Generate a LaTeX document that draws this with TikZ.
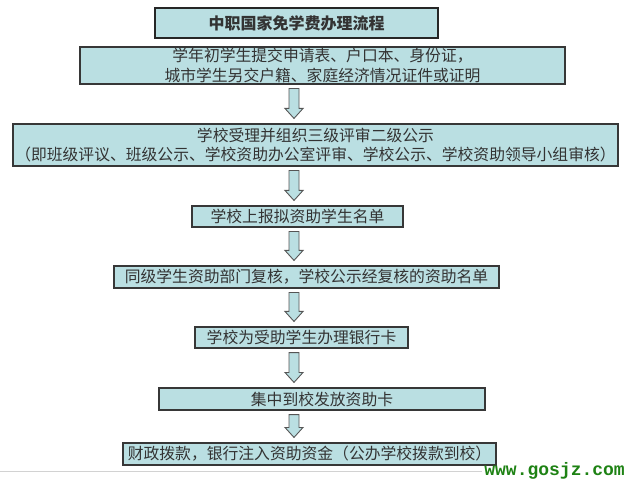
\documentclass[tikz,border=0pt]{standalone}
\usepackage{fontspec}
\setmainfont{Noto Sans CJK SC}
\newfontfamily\cjk{Noto Sans CJK SC}
\newfontfamily\wmfont{Liberation Mono}
\usetikzlibrary{calc}
\definecolor{boxfill}{RGB}{186,223,226}
\definecolor{boxline}{RGB}{55,55,55}
\definecolor{wmgreen}{RGB}{30,130,20}
\tikzset{
  flowbox/.style={draw=boxline, line width=1.1pt, fill=boxfill, inner sep=0pt,
    font=\cjk\fontsize{15.8}{19.5}\selectfont, text=black!80, align=center},
  titlebox/.style={flowbox, line width=1.4pt, draw=black!85, font=\cjk\bfseries\fontsize{16}{19}\selectfont},
  downarrow/.style={draw=boxline!85, line width=0.9pt, fill=boxfill},
}
\newcommand\flowarrow[2]{%
  \draw[downarrow] let \p1=(#1.south), \p2=(#2.north) in
    (289pt,\y1-4pt) -- (299pt,\y1-4pt) -- (299pt,\y2+15pt) -- (303pt,\y2+15pt)
    -- (294pt,\y2+5pt) -- (285pt,\y2+15pt) -- (289pt,\y2+15pt) -- cycle;}
\begin{document}
\begin{tikzpicture}[x=1pt,y=-1pt]
\useasboundingbox (0,0) rectangle (627,481);
\node[titlebox, minimum width=283, minimum height=30] (t) at (296.5,23) {中职国家免学费办理流程};
\node[flowbox, minimum width=485, minimum height=37] (b2) at (322.5,65.5)
  {学年初学生提交申请表、户口本、身份证，\\城市学生另交户籍、家庭经济情况证件或证明};
\node[flowbox, minimum width=605, minimum height=42] (b3) at (315.5,145)
  {学校受理并组织三级评审二级公示\\（即班级评议、班级公示、学校资助办公室评审、学校公示、学校资助领导小组审核）};
\node[flowbox, minimum width=211, minimum height=21] (b4) at (297.5,216.5) {学校上报拟资助学生名单};
\node[flowbox, minimum width=385, minimum height=22] (b5) at (306.5,277) {同级学生资助部门复核，学校公示经复核的资助名单};
\node[flowbox, minimum width=213, minimum height=21] (b6) at (301.5,337.5) {学校为受助学生办理银行卡};
\node[flowbox, minimum width=326, minimum height=22] (b7) at (322,399) {集中到校发放资助卡};
\node[flowbox, minimum width=373, minimum height=22] (b8) at (309.5,454) {财政拨款，银行注入资助资金（公办学校拨款到校）};
\flowarrow{b2}{b3}
\flowarrow{b3}{b4}
\flowarrow{b4}{b5}
\flowarrow{b5}{b6}
\flowarrow{b6}{b7}
\flowarrow{b7}{b8}
\draw[gray!35, line width=1pt] (0,471) -- (482,471);
\node[anchor=east, inner sep=0pt, text=wmgreen, font=\wmfont\bfseries\fontsize{18}{18}\selectfont] (wm) at (625,471) {www.gosjz.com};
\end{tikzpicture}
\end{document}
